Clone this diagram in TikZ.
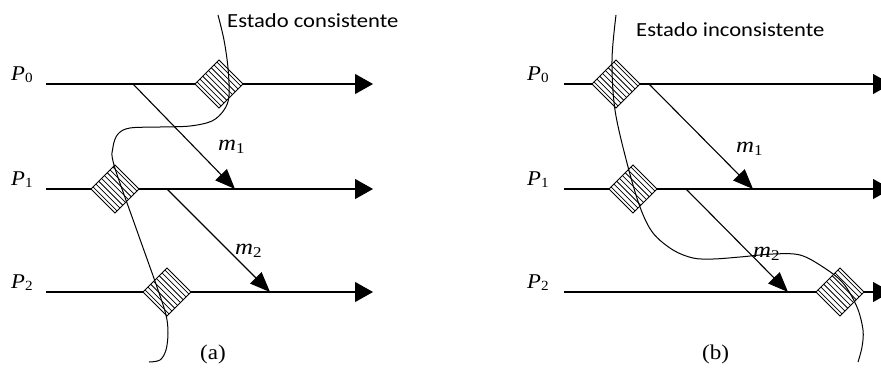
\documentclass[tikz,border=0pt]{standalone}
\usepackage{fontspec}
\setmainfont{Liberation Serif}
\newfontfamily\calfont{Carlito}
\usetikzlibrary{arrows.meta}
\newcommand\plab[2]{\textit{#1}\raisebox{-0.3ex}{\fontsize{14}{14}\selectfont #2}}
\newcommand\mlab[2]{\textit{#1}\raisebox{-0.35ex}{\fontsize{15}{15}\selectfont #2}}
\tikzset{
  proc/.style={line width=1.1pt,-{Triangle[length=18pt,width=20pt]}},
  msg/.style={line width=1.1pt,-{Triangle[length=20pt,width=16pt]}},
  ckbox/.style={draw,line width=0.9pt,fill=white,rectangle,minimum size=34pt,inner sep=0pt,rotate=45},
  hatch/.style={line width=0.75pt},
  cut/.style={line width=1pt},
  plabel/.style={anchor=base west,inner sep=0pt,font=\fontsize{21}{21}\selectfont,xscale=1.08},
  mlabel/.style={anchor=base west,inner sep=0pt,font=\fontsize{22}{22}\selectfont,xscale=1.13},
  sublabel/.style={anchor=base west,inner sep=0pt,font=\fontsize{21}{21}\selectfont,xscale=1.1},
  state/.style={anchor=base west,inner sep=0pt,font=\calfont\fontsize{20}{20}\selectfont,xscale=1.13}
}
\newcommand\ckpt[3]{%
  \node[ckbox] (#1) at (#2,#3) {};
  \begin{scope}[shift={(#2,#3)},rotate=45]
    \foreach \t in {-14,-10,...,14} \draw[hatch] (\t,-17) -- (\t,17);
  \end{scope}}
\begin{document}
\begin{tikzpicture}[x=1pt,y=-1pt]
\useasboundingbox (0,0) rectangle (881,370);
\clip (0,0) rectangle (881,370);
% ---------- panel (a)
\node[plabel] (aP0) at (11,80) {\plab{P}{0}};
\node[plabel] (aP1) at (11,185) {\plab{P}{1}};
\node[plabel] (aP2) at (11,288) {\plab{P}{2}};
\coordinate (as0) at (46,84);  \coordinate (ae0) at (373,84);
\coordinate (as1) at (46,189); \coordinate (ae1) at (373,189);
\coordinate (as2) at (46,292); \coordinate (ae2) at (373,292);
\draw[proc] (as0) -- (ae0);
\draw[proc] (as1) -- (ae1);
\draw[proc] (as2) -- (ae2);
\coordinate (am1s) at (133,84);  \coordinate (am1e) at (235,189);
\coordinate (am2s) at (167,189); \coordinate (am2e) at (270,292);
\draw[msg] (am1s) -- (am1e);
\draw[msg] (am2s) -- (am2e);
\node[mlabel] (am1) at (218,150) {\mlab{m}{1}};
\node[mlabel] (am2) at (235,254) {\mlab{m}{2}};
\ckpt{ac0}{219}{84}
\ckpt{ac1}{115}{189}
\ckpt{ac2}{167}{292}
\draw[cut] plot[smooth,tension=0.55] coordinates {(218,15) (224,40) (228,68) (229,96) (224,110) (212,121) (190,126) (160,127) (130,128) (118,134) (113,147) (114,165) (136,228) (157,287) (166,315) (168,333) (166,350) (160,360) (149,362)};
\node[state] (acons) at (227,27.5) {Estado consistente};
\node[sublabel] (acap) at (200,359) {(a)};
% ---------- panel (b)
\node[plabel] (bP0) at (527,80) {\plab{P}{0}};
\node[plabel] (bP1) at (527,185) {\plab{P}{1}};
\node[plabel] (bP2) at (527,288) {\plab{P}{2}};
\coordinate (bs0) at (564,84);  \coordinate (be0) at (891,84);
\coordinate (bs1) at (564,189); \coordinate (be1) at (891,189);
\coordinate (bs2) at (564,292); \coordinate (be2) at (891,292);
\draw[proc] (bs0) -- (be0);
\draw[proc] (bs1) -- (be1);
\draw[proc] (bs2) -- (be2);
\coordinate (bm1s) at (649,84);  \coordinate (bm1e) at (753,189);
\coordinate (bm2s) at (686,189); \coordinate (bm2e) at (788,292);
\draw[msg] (bm1s) -- (bm1e);
\draw[msg] (bm2s) -- (bm2e);
\node[mlabel] (bm1) at (736,152) {\mlab{m}{1}};
\node[mlabel] (bm2) at (753,257) {\mlab{m}{2}};
\ckpt{bc0}{616}{84}
\ckpt{bc1}{633}{189}
\ckpt{bc2}{840}{292}
\draw[cut] plot[smooth,tension=0.55] coordinates {(616,15) (612,60) (615,110) (627,163) (640,207) (653,233) (673,250) (693,258) (713,259) (740,257) (773,254) (800,255) (823,267) (843,283) (857,307) (863,330) (862,347) (858,362)};
\node[state] (bincons) at (636,36.5) {Estado inconsistente};
\node[sublabel] (bcap) at (702,359) {(b)};
\end{tikzpicture}
\end{document}
